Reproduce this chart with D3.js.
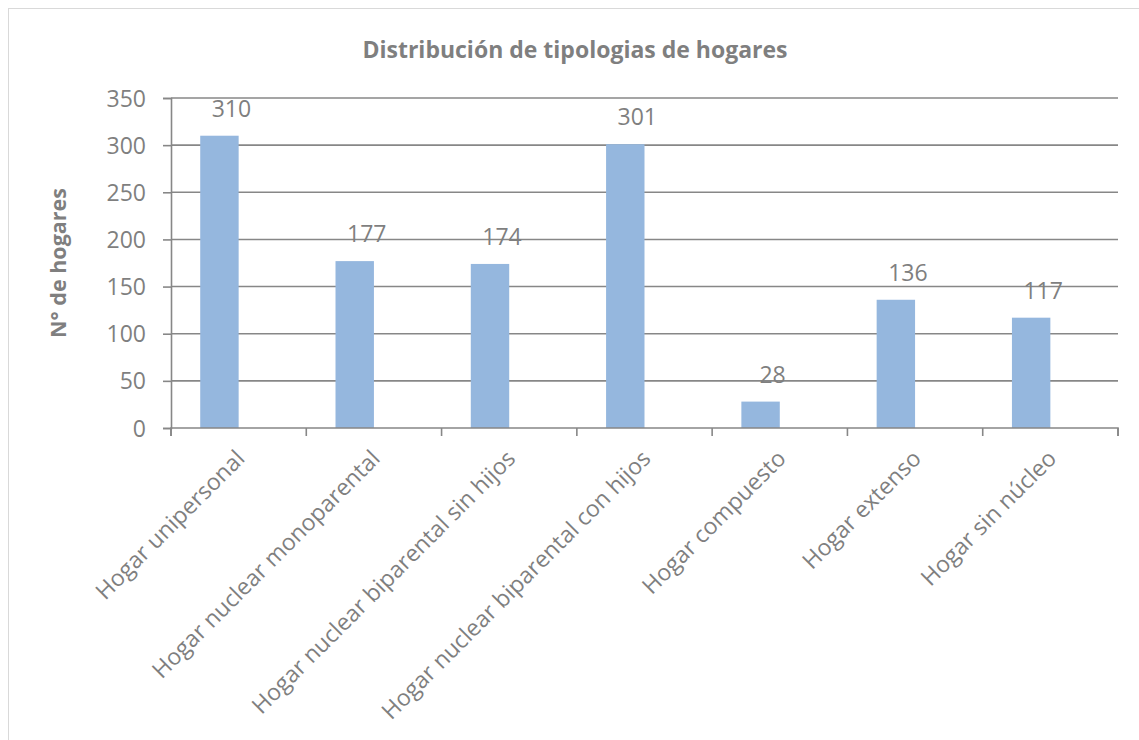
<!DOCTYPE html>
<html>
<head>
<meta charset="utf-8">
<script src="https://cdn.jsdelivr.net/npm/d3@7"></script>
<style>
  html, body { margin: 0; padding: 0; background: #fff; }
  svg { display: block; }
  text { font-family: "Open Sans", "Noto Sans", sans-serif; fill: #7f7f7f; }
</style>
</head>
<body>
<svg id="chart" width="1139" height="740"></svg>
<script>
const categories = [
  "Hogar unipersonal",
  "Hogar nuclear monoparental",
  "Hogar nuclear biparental sin hijos",
  "Hogar nuclear biparental con hijos",
  "Hogar compuesto",
  "Hogar extenso",
  "Hogar sin núcleo"
];
const values = [310, 177, 174, 301, 28, 136, 117];
const yTicks = [0, 50, 100, 150, 200, 250, 300, 350];
const title = "Distribución de tipologias de hogares";
const yTitle = "N° de hogares";

const W = 1139, H = 740;
const m = { left: 171, right: 1118, top: 98, bottom: 428 };

const svg = d3.select("#chart");

// outer chart border
svg.append("rect")
  .attr("x", 8.5).attr("y", 8.5)
  .attr("width", W + 20).attr("height", H + 20)
  .attr("fill", "#fff").attr("stroke", "#d9d9d9").attr("stroke-width", 1);

const x = d3.scaleBand().domain(categories).range([m.left, m.right]).paddingInner(0).paddingOuter(0);
const y = d3.scaleLinear().domain([0, 350]).range([m.bottom, m.top]);

const gridColor = "#878787";

// gridlines
svg.append("g").selectAll("line")
  .data(yTicks.filter(d => d > 0))
  .join("line")
  .attr("x1", m.left).attr("x2", m.right)
  .attr("y1", d => y(d)).attr("y2", d => y(d))
  .attr("stroke", gridColor).attr("stroke-width", 1.6);

// bars (clustered slot with an empty second series: bar sits in left half)
const bw = x.bandwidth();
const barW = bw * 0.284;
const barOff = bw * 0.216;
svg.append("g").selectAll("rect")
  .data(values)
  .join("rect")
  .attr("x", (d, i) => x(categories[i]) + barOff)
  .attr("y", d => y(d))
  .attr("width", barW)
  .attr("height", d => y(0) - y(d))
  .attr("fill", "#95b7de");

// y axis
const yAxis = d3.axisLeft(y).tickValues(yTicks).tickSize(8).tickPadding(17).tickFormat(d3.format("d"));
const gy = svg.append("g").attr("transform", `translate(${m.left},0)`).call(yAxis);
gy.select(".domain").attr("stroke", gridColor).attr("stroke-width", 1.6);
gy.selectAll(".tick line").attr("stroke", gridColor).attr("stroke-width", 1.6);
gy.selectAll(".tick text").style("font-size", "23px").attr("fill", "#7f7f7f")
  .style("font-family", "'Open Sans', sans-serif").attr("dy", "0.35em");

// x axis
const xAxis = d3.axisBottom(x).tickSize(8).tickFormat("");
const gx = svg.append("g").attr("transform", `translate(0,${m.bottom})`).call(xAxis);
gx.select(".domain").attr("stroke", gridColor).attr("stroke-width", 1.6)
  .attr("d", `M${m.left},8V0H${m.right}V8`);
gx.selectAll(".tick").remove();
// ticks at band edges
const edges = categories.map(c => x(c)).concat([m.right]);
gx.append("g").selectAll("line")
  .data(edges)
  .join("line")
  .attr("x1", d => d).attr("x2", d => d)
  .attr("y1", 0).attr("y2", 8)
  .attr("stroke", gridColor).attr("stroke-width", 1.6);

// category labels rotated
svg.append("g").selectAll("text")
  .data(categories)
  .join("text")
  .attr("transform", d => `translate(${x(d) + bw / 2 + 7.5},${m.bottom + 32}) rotate(-45)`)
  .attr("text-anchor", "end")
  .style("font-size", "23px")
  .text(d => d);

// data labels
svg.append("g").selectAll("text")
  .data(values)
  .join("text")
  .attr("x", (d, i) => x(categories[i]) + barOff + barW / 2 + 12)
  .attr("y", d => y(d) - 19)
  .attr("text-anchor", "middle")
  .style("font-size", "23px")
  .text(d => d);

// title
svg.append("text")
  .attr("x", 575).attr("y", 58)
  .attr("text-anchor", "middle")
  .style("font-size", "23px").style("font-weight", "bold")
  .text(title);

// y axis title
svg.append("text")
  .attr("transform", `translate(66,263) rotate(-90)`)
  .attr("text-anchor", "middle")
  .style("font-size", "21.5px").style("font-weight", "bold")
  .text(yTitle);
</script>
</body>
</html>
